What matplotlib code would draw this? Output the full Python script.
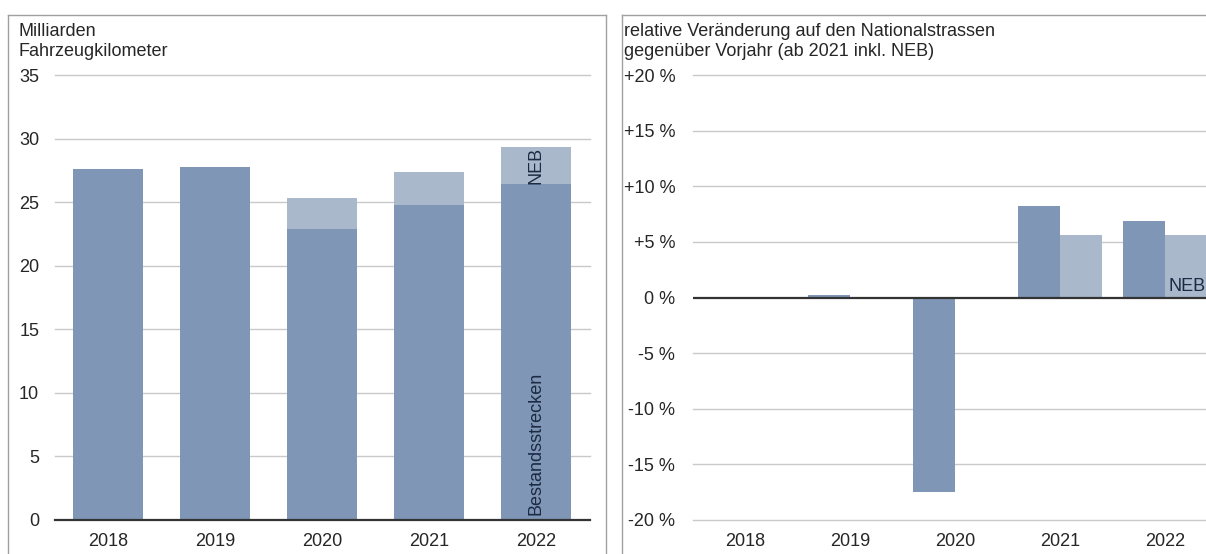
import matplotlib
matplotlib.use("Agg")
import matplotlib.pyplot as plt
from matplotlib.lines import Line2D
import numpy as np

years = ["2018", "2019", "2020", "2021", "2022"]
bestand = [27.6, 27.8, 22.9, 24.8, 26.4]
neb = [0.0, 0.0, 2.4, 2.6, 2.9]
left_ticks = [0, 5, 10, 15, 20, 25, 30, 35]

chg_bestand = [np.nan, 0.2, -17.5, 8.2, 6.9]
chg_neb = [np.nan, np.nan, np.nan, 5.6, 5.6]
right_ticks = [-20, -15, -10, -5, 0, 5, 10, 15, 20]
right_ticklabels = ["-20 %", "-15 %", "-10 %", "-5 %", "0 %", "+5 %", "+10 %", "+15 %", "+20 %"]

C_DARK = "#7f96b6"
C_LIGHT = "#aab8cb"
GRID = "#c9c9c9"
TXT = "#262626"
FS = 13

plt.rcParams["font.family"] = ["Liberation Sans", "DejaVu Sans"]

W, H = 1206, 554
fig = plt.figure(figsize=(W / 100, H / 100), dpi=100)

def fx(px):
    return px / W

def fy(py):
    return 1 - py / H

# panel frames
frame_kw = dict(color="#a0a0a0", lw=1.0, transform=fig.transFigure)
fig.add_artist(Line2D([fx(8), fx(8)], [fy(15), fy(560)], **frame_kw))
fig.add_artist(Line2D([fx(8), fx(606)], [fy(15), fy(15)], **frame_kw))
fig.add_artist(Line2D([fx(606), fx(606)], [fy(15), fy(560)], **frame_kw))
fig.add_artist(Line2D([fx(622), fx(622)], [fy(15), fy(560)], **frame_kw))
fig.add_artist(Line2D([fx(622), fx(1210)], [fy(15), fy(15)], **frame_kw))

# ---------- left panel ----------
axL = fig.add_axes([fx(54.5), fy(520), (589.5 - 54.5) / W, 445 / H])
x = np.arange(len(years))
axL.bar(x, bestand, width=0.66, color=C_DARK, zorder=2)
axL.bar(x, neb, width=0.66, bottom=bestand, color=C_LIGHT, zorder=2)
axL.set_xlim(-0.5, 4.5)
axL.set_ylim(0, 35)
axL.set_yticks(left_ticks)
axL.set_yticklabels([str(t) for t in left_ticks])
axL.set_xticks(x)
axL.set_xticklabels(years)
for t in left_ticks[1:]:
    axL.axhline(t, color=GRID, lw=1.0, zorder=1, clip_on=False)
axL.axhline(0, color="#333333", lw=1.6, zorder=3, clip_on=False)
for s in axL.spines.values():
    s.set_visible(False)
axL.tick_params(axis="both", length=0, labelsize=FS, labelcolor=TXT)
axL.tick_params(axis="y", pad=11)
axL.tick_params(axis="x", pad=9)
axL.text(4, bestand[4] + neb[4] / 2, "NEB", rotation=90, ha="center", va="center",
         fontsize=FS, color="#1c2a44", zorder=4)
axL.text(4, 0.4, "Bestandsstrecken", rotation=90, ha="center", va="bottom",
         fontsize=FS, color="#1c2a44", zorder=4)
fig.text(fx(18), fy(32), "Milliarden", fontsize=FS, color=TXT, va="center", ha="left")
fig.text(fx(18), fy(52), "Fahrzeugkilometer", fontsize=FS, color=TXT, va="center", ha="left")

# ---------- right panel ----------
axR = fig.add_axes([fx(692.5), fy(520), 525 / W, 445 / H])
w = 0.4
axR.bar(x - w / 2, chg_bestand, width=w, color=C_DARK, zorder=2)
axR.bar(x + w / 2, chg_neb, width=w, color=C_LIGHT, zorder=2)
axR.set_xlim(-0.5, 4.5)
axR.set_ylim(-20, 20)
axR.set_yticks(right_ticks)
axR.set_yticklabels(right_ticklabels)
axR.set_xticks(x)
axR.set_xticklabels(years)
for t in right_ticks:
    if t != 0:
        axR.axhline(t, color=GRID, lw=1.0, zorder=1, clip_on=False)
axR.axhline(0, color="#333333", lw=1.6, zorder=3)
for s in axR.spines.values():
    s.set_visible(False)
axR.tick_params(axis="both", length=0, labelsize=FS, labelcolor=TXT)
axR.tick_params(axis="y", pad=12.5)
axR.tick_params(axis="x", pad=9)
axR.text(4.03, 0.95, "NEB", ha="left", va="center", fontsize=FS, color="#1c2a44", zorder=4)
fig.text(fx(624), fy(32), "relative Veränderung auf den Nationalstrassen", fontsize=FS,
         color=TXT, va="center", ha="left")
fig.text(fx(624), fy(52), "gegenüber Vorjahr (ab 2021 inkl. NEB)", fontsize=FS,
         color=TXT, va="center", ha="left")

fig.savefig("out.png", dpi=100)
